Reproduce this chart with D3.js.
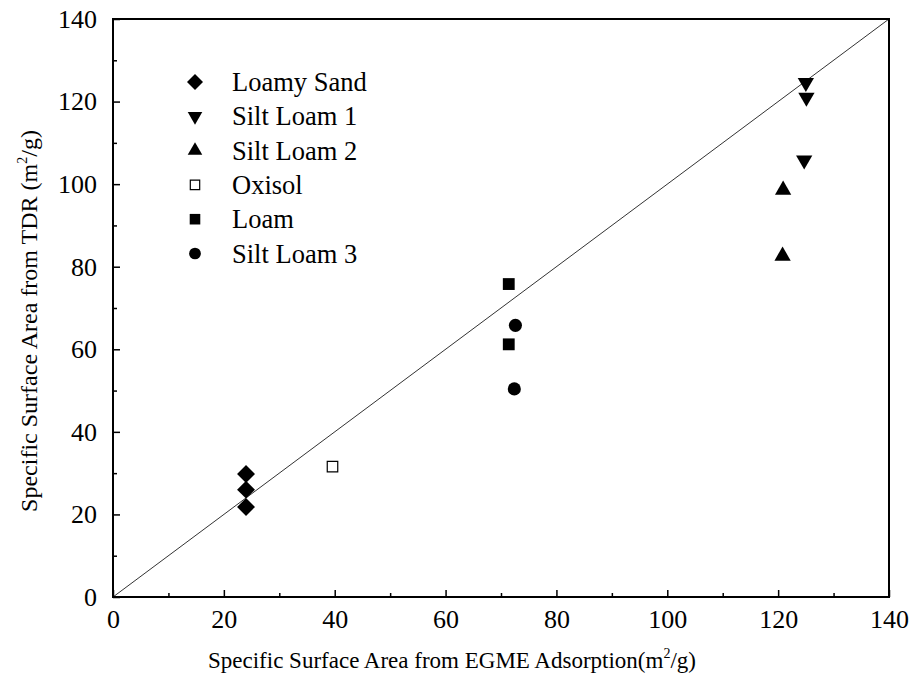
<!DOCTYPE html>
<html>
<head>
<meta charset="utf-8">
<script src="https://cdn.jsdelivr.net/npm/d3@7"></script>
<style>
  body { margin: 0; background: #fff; }
  svg text { font-family: "Liberation Serif", "Times New Roman", serif !important; }
</style>
</head>
<body>
<div id="chart"></div>
<script>
var w = 911;
var h = 679;

// series: names, x (EGME) and y (TDR) values
var seriesNames = ["Loamy Sand", "Silt Loam 1", "Silt Loam 2", "Oxisol", "Loam", "Silt Loam 3"];
var loamySandX = [24, 24, 24];
var loamySandY = [29.8, 26.0, 21.8];
var siltLoam1X = [125, 125.1, 124.7];
var siltLoam1Y = [124.6, 121.0, 105.8];
var siltLoam2X = [120.9, 120.8];
var siltLoam2Y = [98.6, 82.6];
var oxisolX = [39.6];
var oxisolY = [31.6];
var loamX = [71.4, 71.4];
var loamY = [75.8, 61.2];
var siltLoam3X = [72.6, 72.4];
var siltLoam3Y = [65.8, 50.4];
var xTicks = [0, 20, 40, 60, 80, 100, 120, 140];
var yTicks = [0, 20, 40, 60, 80, 100, 120, 140];

var svg = d3.select("#chart")
    .append("svg")
    .attr("width", w)
    .attr("height", h);

var pLeft = 113, pRight = 889, pTop = 19, pBottom = 597;

var Xscale = d3.scaleLinear().domain([0, 140]).range([pLeft, pRight]);
var Yscale = d3.scaleLinear().domain([0, 140]).range([pBottom, pTop]);

// 1:1 line
svg.append("line")
    .attr("x1", Xscale(0)).attr("y1", Yscale(0))
    .attr("x2", Xscale(140)).attr("y2", Yscale(140))
    .attr("stroke", "#333")
    .attr("stroke-width", 1);

// minor ticks
var minor = d3.range(10, 140, 20);

var xAxis = d3.axisBottom(Xscale).tickValues(xTicks).tickSize(-7).tickPadding(13).tickFormat(d3.format("d"));
var yAxis = d3.axisLeft(Yscale).tickValues(yTicks).tickSize(-7).tickPadding(16).tickFormat(d3.format("d"));

svg.append("g")
    .attr("transform", "translate(0," + pBottom + ")")
    .call(xAxis);
svg.append("g")
    .attr("transform", "translate(" + pLeft + ",0)")
    .call(yAxis);

svg.append("g")
    .attr("transform", "translate(0," + pBottom + ")")
    .call(d3.axisBottom(Xscale).tickValues(minor).tickSize(-4).tickFormat(""));
svg.append("g")
    .attr("transform", "translate(" + pLeft + ",0)")
    .call(d3.axisLeft(Yscale).tickValues(minor).tickSize(-4).tickFormat(""));

svg.selectAll(".domain").remove();
svg.selectAll(".tick line").attr("stroke", "#000").attr("stroke-width", 1.5);
svg.selectAll(".tick text")
    .attr("font-size", 26)
    .attr("fill", "#000");

// frame
svg.append("rect")
    .attr("x", pLeft).attr("y", pTop)
    .attr("width", pRight - pLeft).attr("height", pBottom - pTop)
    .attr("fill", "none")
    .attr("stroke", "#000")
    .attr("stroke-width", 2);

// symbols
var symDefs = [
    {type: d3.symbolSquare, size: 160, rot: 45, fill: "#000"},
    {type: d3.symbolTriangle, size: 115, rot: 180, fill: "#000"},
    {type: d3.symbolTriangle, size: 115, rot: 0, fill: "#000"},
    {type: d3.symbolSquare, size: 110, rot: 0, fill: "#fff"},
    {type: d3.symbolSquare, size: 140, rot: 0, fill: "#000"},
    {type: d3.symbolCircle, size: 135, rot: 0, fill: "#000"}
];
var xs = [loamySandX, siltLoam1X, siltLoam2X, oxisolX, loamX, siltLoam3X];
var ys = [loamySandY, siltLoam1Y, siltLoam2Y, oxisolY, loamY, siltLoam3Y];

seriesNames.forEach(function(name, i) {
    var s = symDefs[i];
    var pts = xs[i].map(function(x, j) { return [x, ys[i][j]]; });
    svg.append("g").selectAll("path")
        .data(pts)
        .enter()
        .append("path")
        .attr("d", d3.symbol().type(s.type).size(s.size))
        .attr("transform", function(d) {
            return "translate(" + Xscale(d[0]) + "," + Yscale(d[1]) + ") rotate(" + s.rot + ")";
        })
        .attr("fill", s.fill)
        .attr("stroke", "#000")
        .attr("stroke-width", s.fill == "#fff" ? 1.2 : 0);
});

// legend
var legend = svg.append("g").attr("transform", "translate(195,82)");
seriesNames.forEach(function(name, i) {
    var s = symDefs[i];
    var g = legend.append("g").attr("transform", "translate(0," + (i * 34.3) + ")");
    g.append("path")
        .attr("d", d3.symbol().type(s.type).size(s.size * 0.8))
        .attr("transform", "rotate(" + s.rot + ")")
        .attr("fill", s.fill)
        .attr("stroke", "#000")
        .attr("stroke-width", s.fill == "#fff" ? 1.2 : 0);
    g.append("text")
        .attr("x", 37)
        .attr("y", 9)
        .attr("font-size", 26.5)
        .text(name);
});

// axis titles
var xt = svg.append("text")
    .attr("x", 452)
    .attr("y", 668)
    .attr("text-anchor", "middle")
    .attr("font-size", 23);
xt.append("tspan").text("Specific Surface Area from EGME Adsorption(m");
xt.append("tspan").attr("font-size", 14).attr("dy", -10).text("2");
xt.append("tspan").attr("dy", 10).text("/g)");

var yt = svg.append("text")
    .attr("transform", "translate(37,321) rotate(-90)")
    .attr("text-anchor", "middle")
    .attr("font-size", 24);
yt.append("tspan").text("Specific Surface Area from TDR  (m");
yt.append("tspan").attr("font-size", 14).attr("dy", -10).text("2");
yt.append("tspan").attr("dy", 10).text("/g)");
</script>
</body>
</html>
